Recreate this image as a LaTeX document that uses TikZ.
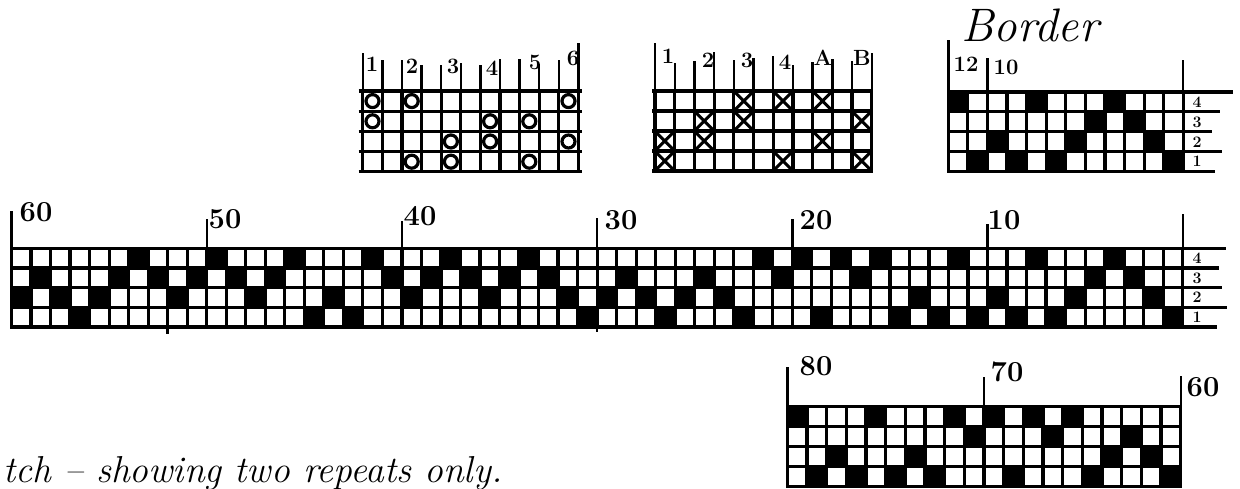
\documentclass[tikz,border=0pt]{standalone}
\usetikzlibrary{
  calc,
  shapes.misc}
\tikzset{
  gridbox/.style={draw,line width=3.2pt,inner sep=0pt,outer sep=0pt},
  gridline/.style={line width=3.2pt},
  tickline/.style={line width=2.4pt},
  ringmark/.style={circle,draw,line width=3.2pt,minimum size=13pt,inner sep=0pt},
  crossmark/.style={cross out,draw,line width=3pt,minimum size=15pt,inner sep=0pt},
  handlabel/.style={inner sep=0pt,font=\fontsize{29}{29}\selectfont\bfseries},
  shaftlabel/.style={inner sep=0pt,font=\fontsize{22}{22}\selectfont\bfseries},
  marginlabel/.style={inner sep=0pt,font=\fontsize{16}{16}\selectfont\bfseries}
}
% #1 name, #2 corner, #3 columns, #4 cell width, #5 cell height
\newcommand{\weavegrid}[5]{%
  \node[gridbox,anchor=north west,minimum width=#3*#4*1pt,minimum height=4*#5*1pt] (#1) at (#2) {};
  \foreach \c in {1,...,#3}
    \draw[gridline] ($(#1.north west)+({\c*#4},0)$) -- ($(#1.south west)+({\c*#4},0)$);
  \foreach \r in {1,2,3}
    \draw[gridline] ($(#1.north west)+(0,{\r*#5})$) -- ($(#1.north east)+(0,{\r*#5})$);
}
% one entry per column: the row which is black
\newcommand{\weavefill}[4]{%
  \foreach \r [count=\c from 0] in {#4}
    \fill ($(#1.north west)+({\c*#2},{(\r-1)*#3})$) rectangle +(#2,#3);
}
\begin{document}
\begin{tikzpicture}[x=1pt,y=-1pt]
  \useasboundingbox (0,0) rectangle (1240,489);

  \weavegrid{tA}{362.7,91}{11}{19.6}{20.2}
  \weavegrid{tB}{655,91}{11}{19.7}{20}
  \weavegrid{gBorder}{948.3,92}{12}{19.58}{19.8}
  \weavegrid{gMain}{11.5,248.5}{60}{19.52}{19.6}
  \weavegrid{gLow}{787.3,406.5}{20}{19.67}{20}

  \weavefill{gBorder}{19.58}{19.8}{1,4,3,4,1,4,3,2,1,2,3,4}
  \weavefill{gMain}{19.52}{19.6}{3,2,3,4,3,2,1,2,3,2,1,2,3,2,1,4,3,4,1,2,
    3,2,1,2,3,2,1,2,3,4,3,2,3,4,3,2,3,4,1,2,
    1,4,1,2,1,4,3,4,1,4,3,4,1,4,3,2,1,2,3,4}
  \weavefill{gLow}{19.67}{20}{1,4,3,4,1,4,3,4,1,2,1,4,1,2,1,4,3,2,3,4}

  \foreach \r/\c in {1/1,1/3,1/11,2/1,2/7,2/9,3/5,3/7,3/11,4/3,4/5,4/9}
    \node[ringmark] (ring\r\c) at ($(tA.north west)+({(\c-0.5)*19.6},{(\r-0.5)*20.2})$) {};
  \foreach \r/\c in {1/5,1/7,1/9,2/3,2/5,2/11,3/1,3/3,3/9,4/1,4/7,4/11}
    \node[crossmark] (cross\r\c) at ($(tB.north west)+({(\c-0.5)*19.7},{(\r-0.5)*20})$) {};

  % ends of the tick lines above the grids
  \foreach \c/\t in {0/38,1/31,2/31,3/26,4/26,5/28,6/26,7/32,8/32,9/27,10/31,11/48}
    \draw[tickline] ($(tA.north west)+({\c*19.6},0)$) -- +(0,-\t);
  \foreach \c/\t in {0/48,1/28,2/30,3/39,4/31,5/33,6/35,7/26,8/29,9/32,10/30,11/38}
    \draw[tickline] ($(tB.north west)+({\c*19.7},0)$) -- +(0,-\t);
  \foreach \c/\t in {0/52,2/34,12/32}
    \draw[tickline] ($(gBorder.north west)+({\c*19.58},0)$) -- +(0,-\t);
  \foreach \c/\t in {0/37,10/29,20/27,30/30,40/29,50/24,60/34}
    \draw[tickline] ($(gMain.north west)+({\c*19.52},0)$) -- +(0,-\t);
  \foreach \c/\t in {0/40,10/30,20/31}
    \draw[tickline] ($(gLow.north west)+({\c*19.67},0)$) -- +(0,-\t);
  \draw[tickline] ($(gMain.south west)+({8*19.52},0)$) -- +(0,7);
  \draw[tickline] ($(gMain.south west)+({30*19.52},0)$) -- +(0,5);

  % rulings past the grids
  \foreach \r/\e in {0/43,1/36,2/39,3/44,4/34}
    \draw[gridline] ($(gMain.north east)+(0,{\r*19.6})$) -- +(\e,0);
  \foreach \r/\e in {0/50,1/37,2/29,3/39,4/32}
    \draw[gridline] ($(gBorder.north east)+(0,{\r*19.8})$) -- +(\e,0);
  \foreach \r in {0,1,2,3,4}
    \draw[gridline] ($(tA.north west)+(-4,{\r*20.2})$) -- ($(tA.north east)+(4,{\r*20.2})$);
  \foreach \r in {0,1,2,3,4}
    \draw[gridline] ($(tB.north west)+(-3,{\r*20})$) -- ($(tB.north east)+(1,{\r*20})$);

  \foreach \n/\x/\y in {1/372/64,2/412/66,3/453/66,4/492/68,5/535/62,6/573/58,
      {1}/668/56,{2}/708/60,{3}/747/60,{4}/785/62,A/823/58,B/862/58}
    \node[shaftlabel] at (\x,\y) {\n};

  \node[inner sep=0pt,font=\fontsize{47}{47}\selectfont\itshape] (lBorder) at (1030,25) {Border};
  \node[shaftlabel] (l12) at (966,64) {12};
  \node[shaftlabel] (l10) at (1006,67) {10};
  \foreach \n/\y in {4/102,3/122,2/142,1/161.5}
    \node[marginlabel] (lb\n) at (1197,\y) {\n};

  \node[handlabel] (l60) at (36,212) {60};
  \node[handlabel] (l50) at (225,219) {50};
  \node[handlabel] (l40) at (420,216) {40};
  \node[handlabel] (l30) at (621,220) {30};
  \node[handlabel] (l20) at (816,220) {20};
  \node[handlabel] (l10b) at (1004,220) {10};
  \foreach \n/\y in {4/258.3,3/278,2/297.5,1/317}
    \node[marginlabel] (lm\n) at (1197,\y) {\n};

  \node[handlabel] (l80) at (816,366) {80};
  \node[handlabel] (l70) at (1007,372) {70};
  \node[handlabel] (l60b) at (1203,387) {60};

  \node[anchor=base west,inner sep=0pt,font=\fontsize{37.5}{37.5}\selectfont\itshape] (lNote) at (3,482)
    {tch -- showing two repeats only.};
\end{tikzpicture}
\end{document}
